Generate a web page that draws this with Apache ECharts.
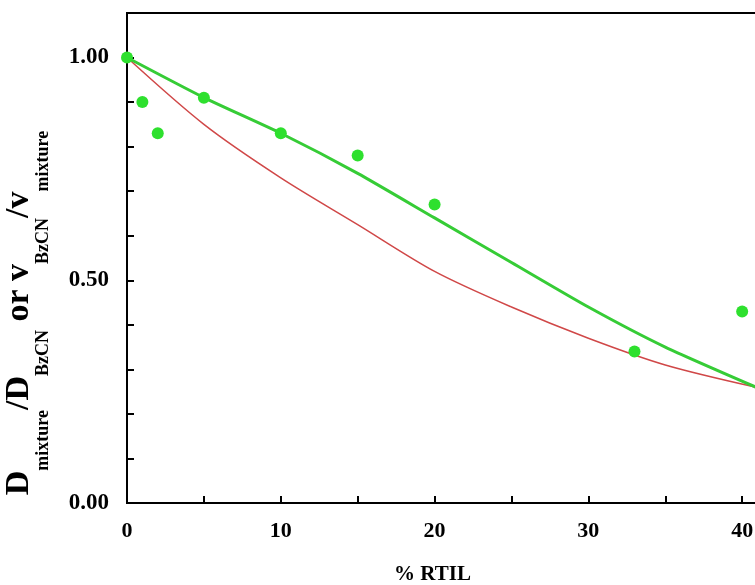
<!DOCTYPE html>
<html>
<head>
<meta charset="utf-8">
<script src="https://cdn.jsdelivr.net/npm/echarts@6/dist/echarts.min.js"></script>
<style>html,body{margin:0;padding:0;background:#fff}#c{width:755px;height:585px}</style>
</head>
<body>
<div id="c"></div>
<script>
// Measured points (% RTIL, ratio)
var pointsX = [0, 1, 2, 5, 10, 15, 20, 33, 40];
var pointsY = [1.00, 0.90, 0.83, 0.91, 0.83, 0.78, 0.67, 0.34, 0.43];
// Green fitted line
var greenX = [0, 5, 10, 15, 20, 25, 30, 35, 40.9];
var greenY = [1.00, 0.91, 0.83, 0.74, 0.64, 0.54, 0.44, 0.35, 0.26];
// Red curve
var redX = [0, 5, 10, 15, 20, 25, 30, 35, 40.9];
var redY = [1.00, 0.85, 0.73, 0.625, 0.52, 0.44, 0.37, 0.31, 0.26];
var xLabels = [0, 10, 20, 30, 40];
var yLabels = [0, 0.5, 1.0];

function zip(a, b) { return a.map(function (v, i) { return [v, b[i]]; }); }

var font = 'Liberation Serif';
var chart = echarts.init(document.getElementById('c'));
chart.setOption({
  animation: false,
  grid: { left: 127, top: 13, right: -1, bottom: 82, containLabel: false, outerBoundsMode: 'none',
          show: true, borderColor: '#000', borderWidth: 2, backgroundColor: 'transparent' },
  xAxis: {
    type: 'value', min: 0, max: 40.9, interval: 5,
    name: '% RTIL', nameLocation: 'middle', nameGap: 61,
    nameTextStyle: { fontFamily: font, fontWeight: 'bold', fontSize: 21, color: '#000', padding: [0, 18, 0, 0] },
    axisLine: { show: true, onZero: false, lineStyle: { color: '#000', width: 2 } },
    axisTick: { show: true, inside: true, length: 7, lineStyle: { color: '#000', width: 2 } },
    splitLine: { show: false },
    axisLabel: {
      margin: 17, fontFamily: font, fontWeight: 'bold', fontSize: 22, color: '#000',
      formatter: function (v) {
        for (var i = 0; i < xLabels.length; i++) if (Math.abs(v - xLabels[i]) < 1e-6) return String(xLabels[i]);
        return '';
      }
    }
  },
  yAxis: {
    type: 'value', min: 0, max: 1.1, interval: 0.1,
    name: '{b|D}{s|mixture}{b|/D}{s|BzCN}{b| or v}{s|BzCN}{b|/v}{s|mixture}',
    nameLocation: 'middle', nameGap: 75, nameRotate: 90,
    nameTextStyle: {
      color: '#000', padding: [0, 110, 0, 0],
      rich: {
        b: { fontFamily: font, fontWeight: 'bold', fontSize: 34, color: '#000', lineHeight: 40, verticalAlign: 'bottom', padding: [0, 0, 16, 0] },
        s: { fontFamily: font, fontWeight: 'bold', fontSize: 18, color: '#000', lineHeight: 20, verticalAlign: 'bottom', padding: [0, 0, 0, 0] }
      }
    },
    axisLine: { show: true, lineStyle: { color: '#000', width: 2 } },
    axisTick: { show: true, inside: true, length: 7, lineStyle: { color: '#000', width: 2 } },
    splitLine: { show: false },
    axisLabel: {
      margin: 18, fontFamily: font, fontWeight: 'bold', fontSize: 23, color: '#000',
      formatter: function (v) {
        for (var i = 0; i < yLabels.length; i++) if (Math.abs(v - yLabels[i]) < 1e-6) return yLabels[i].toFixed(2);
        return '';
      }
    }
  },
  series: [
    {
      type: 'line', data: zip(redX, redY), smooth: 0.3, symbol: 'none',
      lineStyle: { color: '#d04848', width: 1.5 }, z: 2
    },
    {
      type: 'line', data: zip(greenX, greenY), smooth: 0.2, symbol: 'none',
      lineStyle: { color: '#36cc36', width: 3 }, z: 3
    },
    {
      type: 'scatter', data: zip(pointsX, pointsY), symbol: 'circle', symbolSize: 12,
      itemStyle: { color: '#2ee02e', opacity: 1 }, z: 4
    }
  ]
});
</script>
</body>
</html>
